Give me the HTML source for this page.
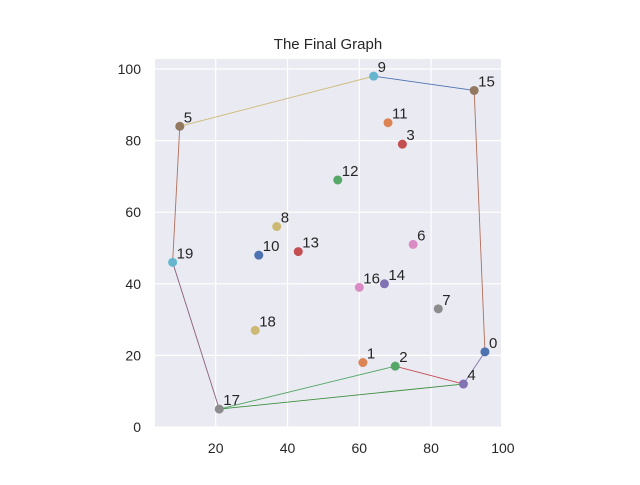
<!DOCTYPE html>
<html><head><meta charset="utf-8"><style>
body{margin:0;background:#fff;font-family:"Liberation Sans","DejaVu Sans",sans-serif}
svg text{font-family:"Liberation Sans","DejaVu Sans",sans-serif;fill:#262626}
</style></head><body>
<svg id="chart" width="640" height="480">
<rect x="155" y="59" width="346" height="368" fill="#EAEAF2"/>
<g id="grid"></g><g id="edges"></g><g id="pts"></g><g id="ticks"></g>
<text x="328" y="49" text-anchor="middle" font-size="15">The Final Graph</text>
</svg>
<script>
const xs=[95,61,70,72,89,10,75,82,37,64,32,68,54,43,67,92,60,21,31,8];
const ys=[21,18,17,79,12,84,51,33,56,98,48,85,69,49,40,94,39,5,27,46];
const hullA=[0,15,9,5,19,17,2,4,17];
const hullB=[15,9,5,19,17,2,4,0,4];
const hullColors=['#b0705a','#4C72B0','#CCB974','#b0705a','#8c607c','#55A868','#C44E52','#8172B3','#3d8f3d'];
const xTicks=[20,40,60,80,100];
const yTicks=[0,20,40,60,80,100];
const palette=['#4C72B0','#DD8452','#55A868','#C44E52','#8172B3','#937860','#DA8BC3','#8C8C8C','#CCB974','#64B5CD'];
const X=v=>215.7+(v-20)*3.59, Y=v=>427-v*3.58;
const NS='http://www.w3.org/2000/svg';
function mk(t,a,p){const e=document.createElementNS(NS,t);for(const k in a)e.setAttribute(k,a[k]);p.appendChild(e);return e;}
const g=document.getElementById('grid'),tk=document.getElementById('ticks');
xTicks.forEach(v=>{const l=mk('line',{x1:X(v),x2:X(v),y1:59,y2:427,stroke:'#fff','stroke-width':1.2},g);


const t=mk('text',{x:X(v),y:453,'text-anchor':'middle','font-size':14},tk);t.textContent=v;

});
yTicks.forEach(v=>{const l=mk('line',{x1:155,x2:501,y1:Y(v),y2:Y(v),stroke:'#fff','stroke-width':1.2},g);


const t=mk('text',{x:141,y:Y(v)+5,'text-anchor':'end','font-size':14},tk);t.textContent=v;

});
const ed=document.getElementById('edges');
hullA.forEach((a,i)=>{const b=hullB[i];const l=mk('line',{x1:X(xs[a]),y1:Y(ys[a]),x2:X(xs[b]),y2:Y(ys[b]),stroke:hullColors[i],'stroke-width':0.9},ed);

});
const pg=document.getElementById('pts');
xs.forEach((x,i)=>{const c=mk('circle',{cx:X(x),cy:Y(ys[i]),r:4.5,fill:palette[i%10]},pg);


const t=mk('text',{x:X(x)+4,y:Y(ys[i])-4,'font-size':15},pg);t.textContent=i;

});
</script>
</body></html>
